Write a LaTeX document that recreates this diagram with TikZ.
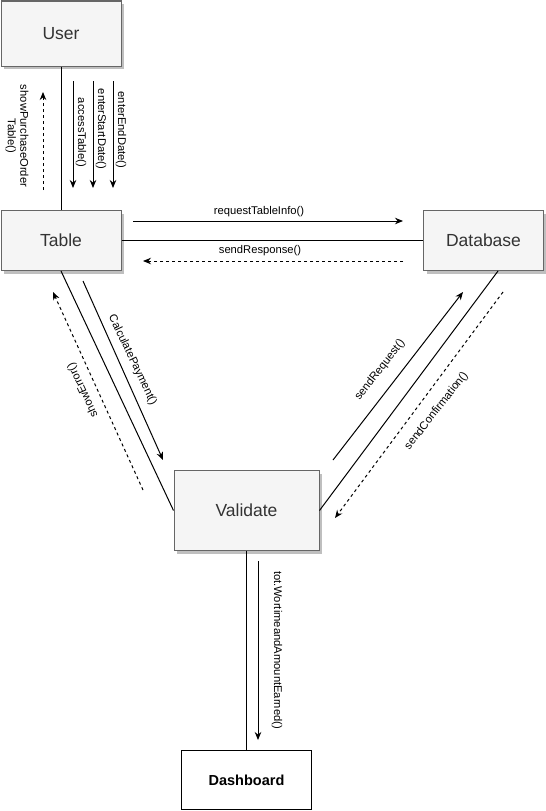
\documentclass[tikz,border=0pt]{standalone}
\usepackage{fontspec}
\setmainfont{Liberation Sans}
\usetikzlibrary{arrows.meta,shadows,calc}
\definecolor{boxfill}{HTML}{F5F5F5}
\definecolor{boxborder}{HTML}{666666}
\definecolor{boxtext}{HTML}{333333}
\definecolor{shadowgray}{HTML}{BFBFBF}
\tikzset{
  box/.style={draw=boxborder, fill=boxfill, line width=1pt, inner sep=0pt, anchor=north west,
    text=boxtext, font=\fontsize{17.5}{20}\selectfont,
    drop shadow={shadow xshift=3pt, shadow yshift=-3pt, fill=shadowgray, opacity=1}},
  plainbox/.style={draw=black, fill=white, line width=1pt, inner sep=0pt, anchor=north west,
    font=\bfseries\fontsize{14.5}{17}\selectfont},
  conn/.style={draw=black, line width=1pt},
  msg/.style={draw=black, line width=1pt, -{Stealth[length=8pt,width=6.5pt]}},
  ret/.style={msg, dash pattern=on 3pt off 3pt},
  lbl/.style={font=\fontsize{11.2}{12.5}\selectfont, inner sep=0pt, text=black, align=center}
}
\begin{document}
\begin{tikzpicture}[x=1pt,y=-1pt]
\useasboundingbox (0,0) rectangle (546,811);
% boxes
\node[box, minimum width=120pt, minimum height=65pt] (user) at (0.5,0.5) {User};
\node[box, minimum width=120pt, minimum height=60pt] (table) at (0.5,210) {Table};
\node[box, minimum width=120pt, minimum height=60pt] (database) at (423,210) {Database};
\node[box, minimum width=145pt, minimum height=80pt] (validate) at (173.5,470) {Validate};
\node[plainbox, minimum width=130pt, minimum height=59pt] (dashboard) at (181,750) {Dashboard};
% connectors
\draw[conn] (user.south) -- (table.north);
\draw[conn] (table.east) -- (database.west);
\draw[conn] (table.south) -- (validate.west);
\draw[conn] ($(database.south)+(14.5,0)$) -- (validate.east);
\draw[conn] (validate.south) -- (dashboard.north);
% message coordinates
\coordinate (spA) at (43,190); \coordinate (spB) at (43,92);
\coordinate (atA) at (73,81);  \coordinate (atB) at (73,188);
\coordinate (esA) at (93,81);  \coordinate (esB) at (93,188);
\coordinate (eeA) at (113,81); \coordinate (eeB) at (113,188);
\coordinate (rtA) at (133,221); \coordinate (rtB) at (403,221);
\coordinate (srA) at (403,261); \coordinate (srB) at (143,261);
\coordinate (cpA) at (83,281); \coordinate (cpB) at (163,460);
\coordinate (seA) at (143,490); \coordinate (seB) at (53,292);
\coordinate (sqA) at (333,460); \coordinate (sqB) at (463,292);
\coordinate (scA) at (503,292); \coordinate (scB) at (335,518);
\coordinate (twA) at (258,561); \coordinate (twB) at (258,740);
% messages
\draw[ret] (spA) -- (spB);
\draw[msg] (atA) -- (atB);
\draw[msg] (esA) -- (esB);
\draw[msg] (eeA) -- (eeB);
\draw[msg] (rtA) -- (rtB);
\draw[ret] (srA) -- (srB);
\draw[msg] (cpA) -- (cpB);
\draw[ret] (seA) -- (seB);
\draw[msg] (sqA) -- (sqB);
\draw[ret] (scA) -- (scB);
\draw[msg] (twA) -- (twB);
% labels
\node[lbl, rotate=-90] (lsp) at (17,136) {showPurchaseOrder\\Table()};
\node[lbl, rotate=-90] (lat) at (81,132.5) {accessTable()};
\node[lbl, rotate=-90] (les) at (101,129) {enterStartDate()};
\node[lbl, rotate=-90] (lee) at (121,130) {enterEndDate()};
\node[lbl] (lrt) at (259,211.5) {requestTableInfo()};
\node[lbl] (lsr) at (260,250.5) {sendResponse()};
\node[lbl, rotate=-64.5] (lcp) at (132.5,360) {CalculatePayment()};
\node[lbl, rotate=115] (lse) at (83,390) {showError()};
\node[lbl, rotate=52] (lsq) at (380,370) {sendRequest()};
\node[lbl, rotate=52] (lsc) at (436.5,411) {sendConfirmation()};
\node[lbl, rotate=-90] (ltw) at (277,650) {tot.WortimeandAmountEarned()};
\end{tikzpicture}
\end{document}
